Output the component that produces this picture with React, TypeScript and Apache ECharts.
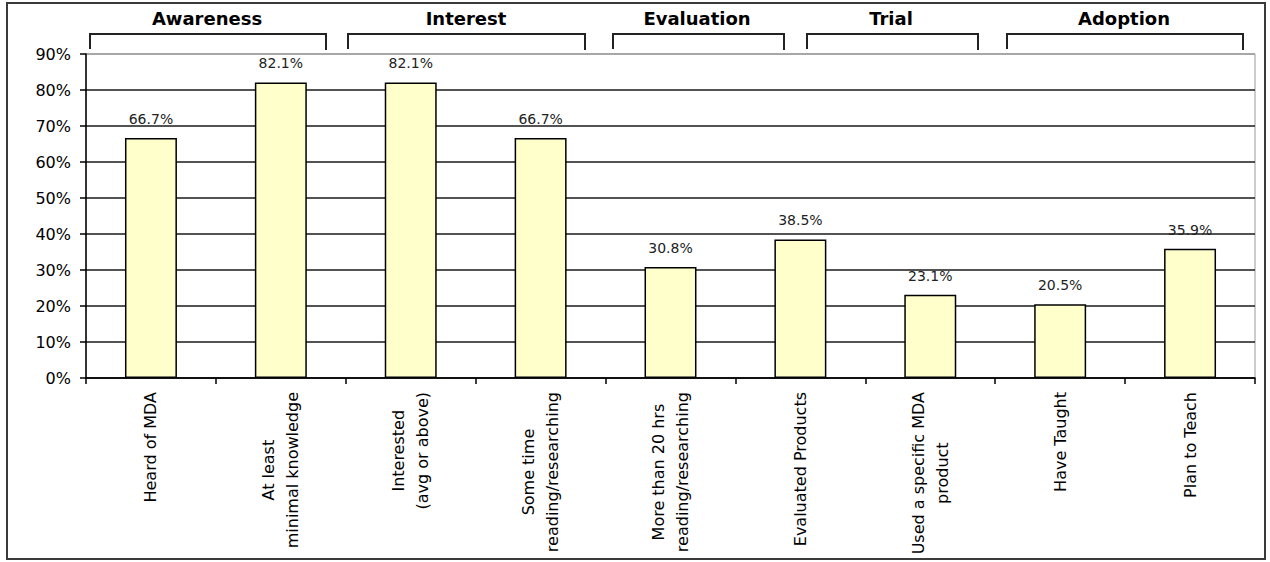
import React, { useEffect, useRef } from "react";
import * as echarts from "echarts";

const categories: string[] = [
  "Heard of MDA",
  "At least\nminimal knowledge",
  "Interested\n(avg or above)",
  "Some time\nreading/researching",
  "More than 20 hrs\nreading/researching",
  "Evaluated Products",
  "Used a specific MDA\nproduct",
  "Have Taught",
  "Plan to Teach",
];

const values: number[] = [66.7, 82.1, 82.1, 66.7, 30.8, 38.5, 23.1, 20.5, 35.9];

const stageNames: string[] = ["Awareness", "Interest", "Evaluation", "Trial", "Adoption"];
// bracket spans (pixels) for the hand-drawn stage markers
const stageSpans: [number, number][] = [
  [90, 326],
  [348, 585],
  [613, 784],
  [807, 978],
  [1007, 1243],
];
const stageTextCenters: number[] = [207, 466, 697, 891, 1124];

const yMin = 0;
const yMax = 90;
const yInterval = 10;

const FONT = "DejaVu Sans";

export default function App() {
  const ref = useRef<HTMLDivElement>(null);

  useEffect(() => {
    document.body.style.margin = "0";
    if (!ref.current) return;
    const chart = echarts.init(ref.current, undefined, { renderer: "svg" });

    const splitColors: string[] = [];
    for (let v = yMin; v <= yMax; v += yInterval) {
      splitColors.push(v === yMax ? "#9a9a9a" : "#1a1a1a");
    }

    const graphics: any[] = [
      {
        type: "rect",
        shape: { x: 7, y: 3, width: 1258, height: 556 },
        style: { fill: "none", stroke: "#3a3a3a", lineWidth: 2 },
        z: 100,
      },
    ];
    stageNames.forEach((name, i) => {
      const [x1, x2] = stageSpans[i];
      graphics.push({
        type: "polyline",
        shape: {
          points: [
            [x1, 49],
            [x1, 34],
            [x2, 34],
            [x2, 50],
          ],
        },
        style: { fill: "none", stroke: "#222", lineWidth: 2 },
      });
      graphics.push({
        type: "text",
        x: stageTextCenters[i],
        y: 18,
        style: {
          text: name,
          fontFamily: FONT,
          fontWeight: "bold",
          fontSize: 18,
          fill: "#000",
          textAlign: "center",
          textVerticalAlign: "middle",
        },
      });
    });

    chart.setOption({
      animation: false,
      backgroundColor: "#ffffff",
      grid: {
        left: 86,
        right: 15,
        top: 54,
        bottom: 184,
        show: true,
        backgroundColor: "#ffffff",
        borderColor: "#9a9a9a",
        borderWidth: 1,
        containLabel: false,
      },
      xAxis: {
        type: "category",
        data: categories,
        axisLine: { show: true, lineStyle: { color: "#000", width: 1.5 } },
        axisTick: { show: true, alignWithLabel: false, length: 6, lineStyle: { color: "#000", width: 1.5 } },
        axisLabel: {
          interval: 0,
          rotate: 90,
          margin: 14,
          fontFamily: FONT,
          fontSize: 16,
          lineHeight: 24,
          color: "#000",
          formatter: (v: string) =>
            v
              .split("\n")
              .map((l) => `{c|${l}}`)
              .join("\n"),
          rich: {
            c: {
              align: "center",
              fontFamily: FONT,
              fontSize: 16,
              lineHeight: 24,
              color: "#000",
            },
          },
        },
        splitLine: { show: false },
      },
      yAxis: {
        type: "value",
        min: yMin,
        max: yMax,
        interval: yInterval,
        axisLine: { show: true, lineStyle: { color: "#000", width: 1.5 } },
        axisTick: { show: true, length: 6, lineStyle: { color: "#000", width: 1.5 } },
        axisLabel: {
          formatter: "{value}%",
          margin: 15,
          fontFamily: FONT,
          fontSize: 16,
          color: "#000",
        },
        splitLine: { show: true, lineStyle: { color: splitColors, width: 1.5 } },
      },
      series: [
        {
          type: "bar",
          data: values,
          barWidth: "40%",
          itemStyle: { color: "#FFFFCC", borderColor: "#000", borderWidth: 1.5 },
          label: {
            show: true,
            position: "top",
            distance: 12,
            formatter: "{c}%",
            fontFamily: FONT,
            fontSize: 14,
            color: "#222",
          },
        },
      ],
      graphic: graphics,
    });

    return () => {
      chart.dispose();
    };
  }, []);

  return <div ref={ref} style={{ width: 1270, height: 562 }} />;
}
